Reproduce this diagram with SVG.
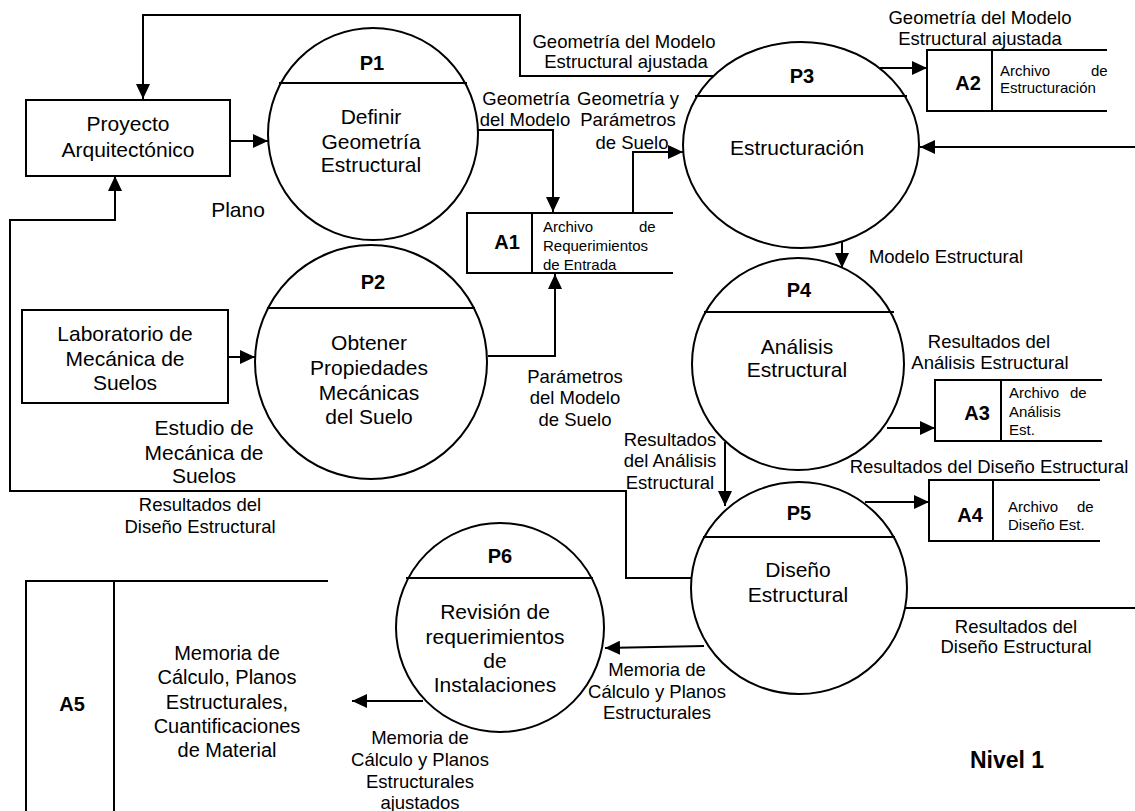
<svg xmlns="http://www.w3.org/2000/svg" width="1135" height="811" viewBox="0 0 1135 811">
<defs>
<marker id="arr" viewBox="0 0 15 14" refX="15" refY="7" markerWidth="15" markerHeight="14" markerUnits="userSpaceOnUse" orient="auto">
<path d="M0,0 L15,7 L0,14 z" fill="#000"/>
</marker>
</defs>
<style>
.s{fill:none;stroke:#000;stroke-width:2}
.b{fill:#fff;stroke:#000;stroke-width:2}
text{font-family:"Liberation Sans",Arial,sans-serif;fill:#000}
.n{font-size:21px;text-anchor:middle}
.l{font-size:18.5px;text-anchor:middle}
.id{font-size:20px;font-weight:bold;text-anchor:middle}
.f{font-size:15px}
.c{fill:none;stroke:#000;stroke-width:2;marker-end:url(#arr)}
</style>
<rect width="1135" height="811" fill="#fff"/>

<g id="connectors">
<path class="c" d="M713,76 H520 V15 H143 V99"/>
<path class="c" d="M230,141 H268"/>
<path class="c" d="M691,578 H626 V491 H10 V220 H115 V176"/>
<path class="c" d="M226,357 H255"/>
<path class="c" d="M477,130 H553 V212"/>
<path class="c" d="M488,356 H555 V274"/>
<path class="c" d="M633,213 V152 H683"/>
<path class="c" d="M880,68 H927"/>
<path class="c" d="M1135,147 H920"/>
<path class="c" d="M842,242 V268"/>
<path class="c" d="M887,428 H935"/>
<path class="c" d="M725,442 V506"/>
<path class="c" d="M865,502 H929"/>
<path class="s" d="M906,608 H1135"/>
<path class="c" d="M704,646 L605,648"/>
<path class="c" d="M423,701 H352"/>
</g>

<g id="proyecto">
<rect class="b" x="26" y="100" width="204" height="76"/>
<text class="n" x="128" y="131">Proyecto</text>
<text class="n" x="128" y="157">Arquitectónico</text>
</g>

<g id="laboratorio">
<rect class="b" x="22" y="310" width="206" height="93"/>
<text class="n" x="125" y="341">Laboratorio de</text>
<text class="n" x="125" y="366">Mecánica de</text>
<text class="n" x="125" y="390">Suelos</text>
</g>

<g id="P1">
<ellipse class="b" cx="373" cy="134" rx="105" ry="106"/>
<path class="s" d="M279,83 H467"/>
<text class="id" x="372" y="70">P1</text>
<text class="n" x="371" y="124">Definir</text>
<text class="n" x="371" y="149">Geometría</text>
<text class="n" x="371" y="172">Estructural</text>
</g>

<g id="P2">
<ellipse class="b" cx="371" cy="362" rx="116" ry="117"/>
<path class="s" d="M267,308 H475"/>
<text class="id" x="373" y="289">P2</text>
<text class="n" x="369" y="350">Obtener</text>
<text class="n" x="369" y="375">Propiedades</text>
<text class="n" x="369" y="400">Mecánicas</text>
<text class="n" x="369" y="424">del Suelo</text>
</g>

<g id="P3">
<ellipse class="b" cx="801" cy="145" rx="118" ry="103"/>
<path class="s" d="M695,96 H907"/>
<text class="id" x="802" y="83">P3</text>
<text class="n" x="797" y="155">Estructuración</text>
</g>

<g id="P4">
<ellipse class="b" cx="798" cy="364" rx="106" ry="106"/>
<path class="s" d="M704,312 H894"/>
<text class="id" x="799" y="297">P4</text>
<text class="n" x="797" y="354">Análisis</text>
<text class="n" x="797" y="377">Estructural</text>
</g>

<g id="P5">
<ellipse class="b" cx="799" cy="588" rx="108" ry="106"/>
<path class="s" d="M703,537 H895"/>
<text class="id" x="799" y="520">P5</text>
<text class="n" x="798" y="577">Diseño</text>
<text class="n" x="798" y="602">Estructural</text>
</g>

<g id="P6">
<ellipse class="b" cx="500" cy="627.5" rx="104" ry="104.5"/>
<path class="s" d="M406,578 H593"/>
<text class="id" x="500" y="563">P6</text>
<text class="n" x="495" y="619">Revisión  de</text>
<text class="n" x="495" y="644">requerimientos</text>
<text class="n" x="495" y="668">de</text>
<text class="n" x="495" y="692">Instalaciones</text>
</g>

<g id="A1">
<path class="s" d="M673,213 H467 V273 H673 M532,213 V273"/>
<text class="id" x="507" y="249">A1</text>
<text class="f" y="232"><tspan x="543">Archivo</tspan><tspan x="639">de</tspan></text>
<text class="f" x="543" y="251">Requerimientos</text>
<text class="f" x="543" y="270">de Entrada</text>
</g>

<g id="A2">
<path class="s" d="M1107,50 H927 V111 H1107 M992,50 V111"/>
<text class="id" x="968" y="90">A2</text>
<text class="f" y="76"><tspan x="1000">Archivo</tspan><tspan x="1091">de</tspan></text>
<text class="f" x="1000" y="93">Estructuración</text>
</g>

<g id="A3">
<path class="s" d="M1102,380 H935 V441 H1102 M1001,380 V441"/>
<text class="id" x="977" y="420">A3</text>
<text class="f" y="398"><tspan x="1009">Archivo</tspan><tspan x="1070">de</tspan></text>
<text class="f" x="1009" y="417">Análisis</text>
<text class="f" x="1009" y="435">Est.</text>
</g>

<g id="A4">
<path class="s" d="M1100,480 H929 V541 H1100 M993,480 V541"/>
<text class="id" x="970" y="522">A4</text>
<text class="f" y="512"><tspan x="1008">Archivo</tspan><tspan x="1077">de</tspan></text>
<text class="f" x="1008" y="530">Diseño Est.</text>
</g>

<g id="A5">
<path class="s" d="M328,581 H26 V811 M114,581 V811"/>
<text class="id" x="72" y="711">A5</text>
<text class="n" style="font-size:20px" x="227" y="660">Memoria de</text>
<text class="n" style="font-size:20px" x="227" y="684">Cálculo, Planos</text>
<text class="n" style="font-size:20px" x="227" y="709">Estructurales,</text>
<text class="n" style="font-size:20px" x="227" y="733">Cuantificaciones</text>
<text class="n" style="font-size:20px" x="227" y="757">de Material</text>
</g>

<g id="labels">
<text class="l" x="624" y="48">Geometría del Modelo</text>
<text class="l" x="626" y="68">Estructural ajustada</text>
<text class="l" x="980" y="24">Geometría del Modelo</text>
<text class="l" x="980" y="45">Estructural ajustada</text>
<text class="l" x="526" y="105">Geometría</text>
<text class="l" x="525" y="126">del Modelo</text>
<text class="l" x="628" y="105">Geometría y</text>
<text class="l" x="628" y="126">Parámetros</text>
<text class="l" x="632" y="149">de Suelo</text>
<text class="n" x="238" y="217">Plano</text>
<text class="n" x="204" y="435">Estudio de</text>
<text class="n" x="204" y="460">Mecánica de</text>
<text class="n" x="204" y="483">Suelos</text>
<text class="l" x="575" y="383">Parámetros</text>
<text class="l" x="575" y="404">del Modelo</text>
<text class="l" x="575" y="426">de Suelo</text>
<text class="l" x="946" y="263">Modelo Estructural</text>
<text class="l" x="989" y="348">Resultados del</text>
<text class="l" x="990" y="369">Análisis Estructural</text>
<text class="l" x="670" y="446">Resultados</text>
<text class="l" x="670" y="467">del Análisis</text>
<text class="l" x="670" y="489">Estructural</text>
<text class="l" x="989" y="473">Resultados del Diseño Estructural</text>
<text class="l" x="200" y="511">Resultados del</text>
<text class="l" x="200" y="533">Diseño Estructural</text>
<text class="l" x="1016" y="633">Resultados del</text>
<text class="l" x="1016" y="653">Diseño Estructural</text>
<text class="l" x="657" y="676">Memoria de</text>
<text class="l" x="657" y="698">Cálculo y Planos</text>
<text class="l" x="657" y="719">Estructurales</text>
<text class="l" x="420" y="744">Memoria de</text>
<text class="l" x="420" y="766">Cálculo y Planos</text>
<text class="l" x="420" y="788">Estructurales</text>
<text class="l" x="420" y="809">ajustados</text>
<text x="1007" y="768" style="font-size:23px;font-weight:bold;text-anchor:middle">Nivel 1</text>
</g>
</svg>
